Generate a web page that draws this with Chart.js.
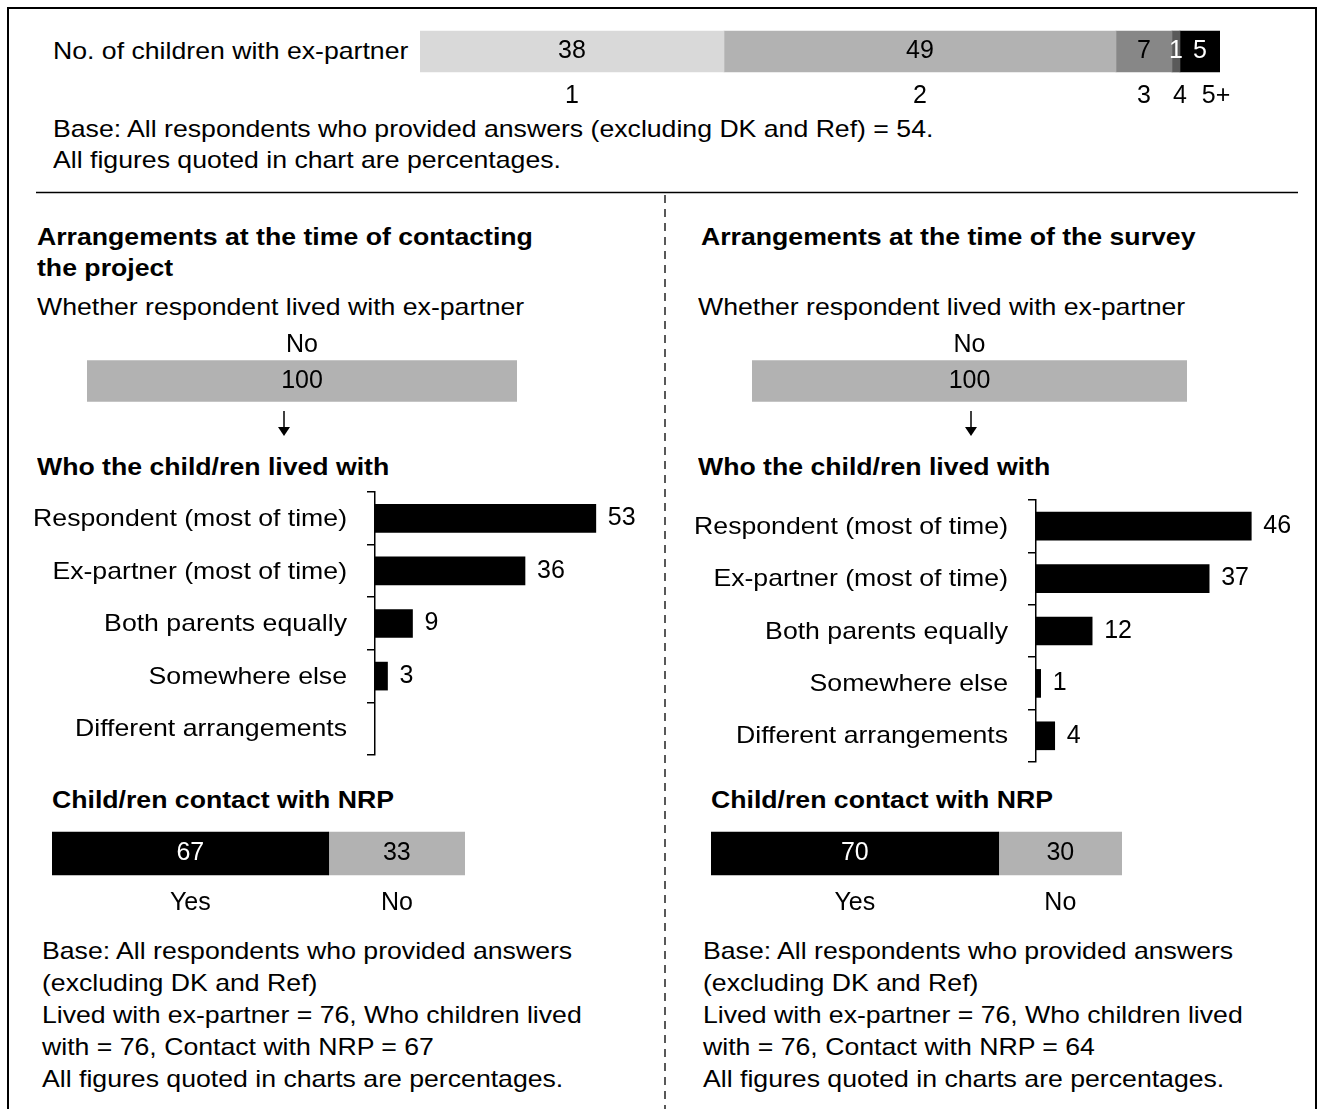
<!DOCTYPE html>
<html lang="en">
<head>
    <meta charset="UTF-8">
    <title>Arrangements with ex-partner</title>
    <script src="https://cdn.jsdelivr.net/npm/chart.js"></script>
    <style>
        html, body {
            margin: 0;
            padding: 0;
            background: #ffffff;
            overflow: hidden;
        }
        body {
            width: 1322px;
            height: 1109px;
            position: relative;
            font-family: "Liberation Sans", Arial, sans-serif;
            font-size: 24px;
            color: #000;
        }
        .frame {
            position: absolute;
            left: 7px;
            top: 7px;
            width: 1306px;
            height: 1200px;
            border: 2px solid #000;
        }
        .txt {
            position: absolute;
            line-height: 31px;
            white-space: nowrap;
            transform: scaleX(1.11);
            transform-origin: left top;
        }
        .notes { line-height: 32px; }
        .b { font-weight: bold; }
        canvas { position: absolute; }
        svg { position: absolute; left: 0; top: 0; }
    </style>
</head>
<body>
    <div class="frame"></div>

    <svg width="1322" height="1109">
        <line x1="36" y1="192.5" x2="1298" y2="192.5" stroke="#000" stroke-width="1.5"/>
        <line x1="665" y1="195" x2="665" y2="1109" stroke="#000" stroke-width="1.3" stroke-dasharray="8 6"/>
        <!-- arrows -->
        <line x1="284" y1="411" x2="284" y2="428" stroke="#000" stroke-width="1.5"/>
        <polygon points="278,427 290,427 284,436" fill="#000"/>
        <line x1="971" y1="411" x2="971" y2="428" stroke="#000" stroke-width="1.5"/>
        <polygon points="965,427 977,427 971,436" fill="#000"/>
    </svg>

    <div class="txt" style="left:53px; top:35px;">No. of children with ex-partner</div>
    <div class="txt" style="left:53px; top:113px;">Base: All respondents who provided answers (excluding DK and Ref) = 54.<br>All figures quoted in chart are percentages.</div>

    <div class="txt b" style="left:37px; top:221px;">Arrangements at the time of contacting<br>the project</div>
    <div class="txt b" style="left:701px; top:221px;">Arrangements at the time of the survey</div>

    <div class="txt" style="left:37px; top:291px;">Whether respondent lived with ex-partner</div>
    <div class="txt" style="left:698px; top:291px;">Whether respondent lived with ex-partner</div>

    <div class="txt b" style="left:37px; top:451px;">Who the child/ren lived with</div>
    <div class="txt b" style="left:698px; top:451px;">Who the child/ren lived with</div>

    <div class="txt b" style="left:52px; top:784px;">Child/ren contact with NRP</div>
    <div class="txt b" style="left:711px; top:784px;">Child/ren contact with NRP</div>

    <div class="txt notes" style="left:42px; top:935px;">Base: All respondents who provided answers<br>(excluding DK and Ref)<br>Lived with ex-partner = 76, Who children lived<br>with = 76, Contact with NRP = 67<br>All figures quoted in charts are percentages.</div>
    <div class="txt notes" style="left:703px; top:935px;">Base: All respondents who provided answers<br>(excluding DK and Ref)<br>Lived with ex-partner = 76, Who children lived<br>with = 76, Contact with NRP = 64<br>All figures quoted in charts are percentages.</div>

    <canvas id="childCount" width="840" height="100" style="left:420px; top:21px;"></canvas>
    <canvas id="livedBefore" width="430" height="80" style="left:87px; top:325px;"></canvas>
    <canvas id="livedNow" width="435" height="80" style="left:752px; top:325px;"></canvas>
    <canvas id="whoBefore" width="635" height="280" style="left:30px; top:485px;"></canvas>
    <canvas id="whoNow" width="620" height="280" style="left:690px; top:492px;"></canvas>
    <canvas id="contactBefore" width="413" height="100" style="left:52px; top:810px;"></canvas>
    <canvas id="contactNow" width="411" height="100" style="left:711px; top:810px;"></canvas>

    <script>
        // data
        const childCountLabels = ['1', '2', '3', '4', '5+'];
        const childCountValues = [38, 49, 7, 1, 5];

        const livedLabels = ['No'];
        const livedBeforeValues = [100];
        const livedNowValues = [100];

        const whoLabels = ['Respondent (most of time)', 'Ex-partner (most of time)', 'Both parents equally', 'Somewhere else', 'Different arrangements'];
        const whoBeforeValues = [53, 36, 9, 3, null];
        const whoNowValues = [46, 37, 12, 1, 4];

        const contactLabels = ['Yes', 'No'];
        const contactBeforeValues = [67, 33];
        const contactNowValues = [70, 30];

        const FONT = '"Liberation Sans", Arial, sans-serif';
        Chart.defaults.font.family = FONT;
        Chart.defaults.font.size = 25;
        Chart.defaults.color = '#000';

        // draws the numbers on/next to the bars and the category names above/below
        const barText = {
            id: 'barText',
            afterDatasetsDraw(chart, args, opts) {
                const ctx = chart.ctx;
                ctx.save();
                ctx.font = '25px ' + FONT;
                ctx.textBaseline = 'middle';
                const segs = [];
                chart.data.datasets.forEach((ds, i) => {
                    const meta = chart.getDatasetMeta(i);
                    meta.data.forEach((bar, j) => {
                        const v = ds.data[j];
                        if (v === null || v === undefined) return;
                        const p = bar.getProps(['x', 'y', 'base', 'height'], true);
                        if (opts.mode === 'end') {
                            ctx.textAlign = 'left';
                            ctx.fillStyle = '#000';
                            ctx.fillText(v, p.x + opts.gap, p.y);
                        } else {
                            const cx = (p.x + p.base) / 2;
                            ctx.textAlign = 'center';
                            ctx.fillStyle = ds.textColor || '#000';
                            ctx.fillText(v, cx, p.y);
                            segs.push({ cx: cx, y: p.y, label: ds.label });
                        }
                    });
                });
                ctx.fillStyle = '#000';
                ctx.textAlign = 'center';
                if (opts.below) {
                    let prev = -1e9;
                    segs.forEach(s => {
                        const x = Math.max(s.cx, prev + opts.minGap);
                        ctx.fillText(s.label, x, s.y + opts.below);
                        prev = x;
                    });
                }
                if (opts.above) {
                    segs.forEach(s => ctx.fillText(s.label, s.cx, s.y - opts.above));
                }
                // category names of the y axis, a little wider like the original type
                if (opts.yLabels) {
                    const sc = chart.scales.y;
                    ctx.textAlign = 'right';
                    ctx.font = '24px ' + FONT;
                    chart.data.labels.forEach((lab, i) => {
                        ctx.save();
                        ctx.translate(sc.right - 28, sc.getPixelForTick(i));
                        ctx.scale(1.11, 1);
                        ctx.fillText(lab, 0, 1);
                        ctx.restore();
                    });
                }
                ctx.restore();
            }
        };

        function stackedBar(id, labels, values, colors, textColors, thick, padding, textOpts) {
            new Chart(document.getElementById(id), {
                type: 'bar',
                data: {
                    labels: [''],
                    datasets: values.map((v, i) => ({
                        label: labels[i],
                        data: [v],
                        backgroundColor: colors[i],
                        textColor: textColors[i],
                        barThickness: thick,
                        borderWidth: 0
                    }))
                },
                options: {
                    indexAxis: 'y',
                    responsive: false,
                    animation: false,
                    layout: { padding: padding },
                    scales: {
                        x: { stacked: true, display: false, min: 0, max: 100 },
                        y: { stacked: true, display: false }
                    },
                    plugins: {
                        legend: { display: false },
                        tooltip: { enabled: false },
                        barText: textOpts
                    }
                },
                plugins: [barText]
            });
        }

        function whoChart(id, values, xMax, axisWidth, padding) {
            new Chart(document.getElementById(id), {
                type: 'bar',
                data: {
                    labels: whoLabels,
                    datasets: [{
                        data: values,
                        backgroundColor: '#000',
                        barThickness: 28,
                        borderWidth: 0
                    }]
                },
                options: {
                    indexAxis: 'y',
                    responsive: false,
                    animation: false,
                    layout: { padding: padding },
                    scales: {
                        x: { display: false, min: 0, max: xMax },
                        y: {
                            afterFit: (scale) => {
                                scale.width = axisWidth;
                                scale.paddingTop = 0;
                                scale.paddingBottom = 0;
                            },
                            border: { display: true, color: '#000', width: 1.5 },
                            grid: { offset: true, drawOnChartArea: false, drawTicks: true, tickLength: 8, color: '#000', lineWidth: 1.5 },
                            ticks: { display: false, autoSkip: false }
                        }
                    },
                    plugins: {
                        legend: { display: false },
                        tooltip: { enabled: false },
                        barText: { mode: 'end', gap: 12, yLabels: true }
                    }
                },
                plugins: [barText]
            });
        }

        stackedBar('childCount', childCountLabels, childCountValues,
            ['#d9d9d9', '#b2b2b2', '#878787', '#5a5a5a', '#000000'],
            ['#000', '#000', '#000', '#fff', '#fff'],
            41, { top: 0, bottom: 39, left: 0, right: 40 },
            { below: 45, minGap: 36 });

        stackedBar('livedBefore', livedLabels, livedBeforeValues, ['#b2b2b2'], ['#000'],
            41, { top: 32, bottom: 0, left: 0, right: 0 }, { above: 36 });
        stackedBar('livedNow', livedLabels, livedNowValues, ['#b2b2b2'], ['#000'],
            41, { top: 32, bottom: 0, left: 0, right: 0 }, { above: 36 });

        whoChart('whoBefore', whoBeforeValues, 60, 345, { top: 7, bottom: 10, left: 0, right: 40 });
        whoChart('whoNow', whoNowValues, 50, 346, { top: 8, bottom: 10, left: 0, right: 40 });

        stackedBar('contactBefore', contactLabels, contactBeforeValues, ['#000000', '#b2b2b2'], ['#fff', '#000'],
            43, { top: 0, bottom: 13, left: 0, right: 0 }, { below: 50, minGap: 36 });
        stackedBar('contactNow', contactLabels, contactNowValues, ['#000000', '#b2b2b2'], ['#fff', '#000'],
            43, { top: 0, bottom: 13, left: 0, right: 0 }, { below: 50, minGap: 36 });
    </script>
</body>
</html>
